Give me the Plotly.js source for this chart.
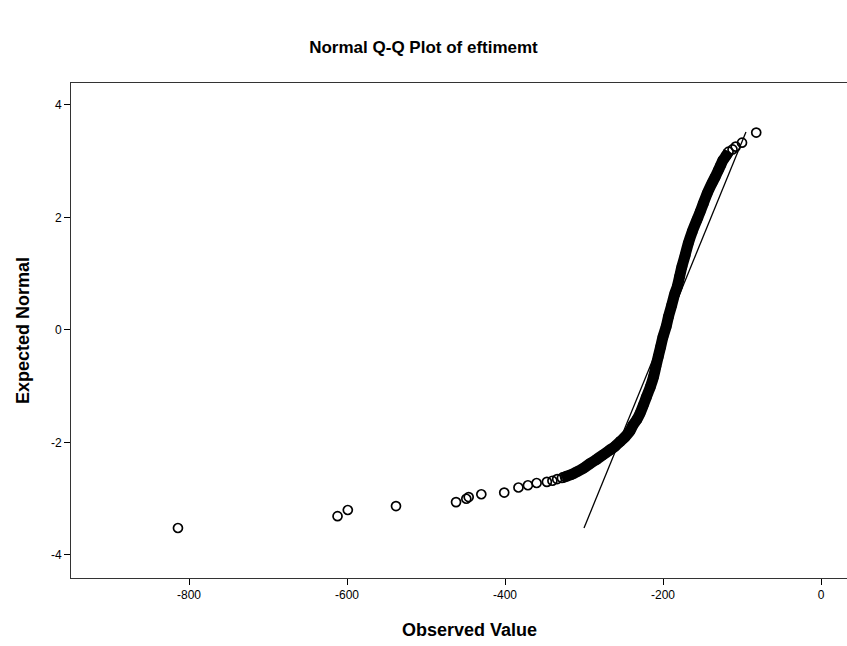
<!DOCTYPE html>
<html>
<head>
<meta charset="utf-8">
<script src="https://cdn.plot.ly/plotly-3.0.1.min.js"></script>
<style>html,body{margin:0;padding:0;background:#fff;}#chart{width:847px;height:646px;}</style>
</head>
<body>
<div id="chart"></div>
<script>
// Sparse lower-tail observations (Observed Value, Expected Normal)
var tailX = [-814, -612, -599, -538, -462, -449, -446, -430, -401, -383, -371, -360, -347, -340, -334];
var tailY = [-3.52, -3.31, -3.20, -3.13, -3.06, -3.00, -2.97, -2.92, -2.89, -2.80, -2.76, -2.72, -2.70, -2.68, -2.65];

// Dense body of observations (read along the thick band)
var bandX = [-328, -324, -316, -309, -300, -292, -284, -276, -268, -261, -254, -248, -242, -238, -233, -229, -225, -221, -216, -212, -209, -206, -203, -200, -196, -193, -189, -185, -182, -179, -176, -172, -168, -163, -157, -153, -149, -144, -138, -134, -130, -127, -124, -120, -117];
var bandY = [-2.63, -2.61, -2.57, -2.52, -2.45, -2.37, -2.30, -2.22, -2.14, -2.07, -1.98, -1.90, -1.80, -1.69, -1.59, -1.48, -1.34, -1.19, -1.01, -0.83, -0.65, -0.47, -0.30, -0.12, 0.06, 0.24, 0.44, 0.65, 0.77, 0.95, 1.13, 1.33, 1.54, 1.75, 1.96, 2.10, 2.25, 2.43, 2.61, 2.72, 2.84, 2.93, 3.02, 3.10, 3.17];

// Upper-tail observations
var topX = [-112, -108, -100, -82];
var topY = [3.21, 3.26, 3.33, 3.51];

// Reference line endpoints
var refX = [-300, -95];
var refY = [-3.52, 3.52];

var xTicks = [-800, -600, -400, -200, 0];
var yTicks = [-4, -2, 0, 2, 4];

var circle = {symbol: 'circle-open', size: 9, color: '#000', line: {width: 1.7, color: '#000'}};
var FONT = 'Liberation Sans, Arial, sans-serif';

var traces = [
  {x: refX, y: refY, mode: 'lines', line: {color: '#000', width: 1.3}, hoverinfo: 'skip'},
  {x: tailX, y: tailY, mode: 'markers', marker: circle},
  {x: bandX, y: bandY, mode: 'lines+markers', line: {color: '#000', width: 11, shape: 'spline', smoothing: 0.8}, marker: circle},
  {x: topX, y: topY, mode: 'markers', marker: circle}
];

var layout = {
  width: 847, height: 646,
  margin: {l: 71, r: 0, t: 83, b: 68},
  paper_bgcolor: '#fff', plot_bgcolor: '#fff',
  showlegend: false,
  font: {family: FONT, color: '#000'},
  title: {text: 'Normal Q-Q Plot of eftimemt', font: {size: 17, family: FONT, weight: 'bold', color: '#000'},
          x: 0.5, xref: 'container', xanchor: 'center', y: 0.927, yref: 'container', yanchor: 'middle'},
  xaxis: {
    range: [-949.4, 32.9], tickvals: xTicks, ticktext: xTicks.map(String),
    showgrid: false, zeroline: false, showline: true, linecolor: '#333', linewidth: 1, mirror: true,
    ticks: 'outside', ticklen: 6, tickwidth: 1, tickcolor: '#000',
    tickfont: {size: 12, color: '#000'}
  },
  yaxis: {
    range: [-4.409, 4.391], tickvals: yTicks, ticktext: yTicks.map(String),
    showgrid: false, zeroline: false, showline: true, linecolor: '#333', linewidth: 1, mirror: false,
    ticks: 'outside', ticklen: 6, tickwidth: 1, tickcolor: '#000',
    tickfont: {size: 12, color: '#000'},
    title: {text: 'Expected Normal', font: {size: 18, weight: 'bold', color: '#000'}, standoff: 16}
  },
  annotations: [
    {text: 'Observed Value', xref: 'paper', yref: 'paper', x: 0.513, y: -0.105, xanchor: 'center', yanchor: 'middle',
     showarrow: false, font: {size: 18, family: FONT, weight: 'bold', color: '#000'}}
  ]
};

Plotly.newPlot('chart', traces, layout, {staticPlot: true, displayModeBar: false});
</script>
</body>
</html>
